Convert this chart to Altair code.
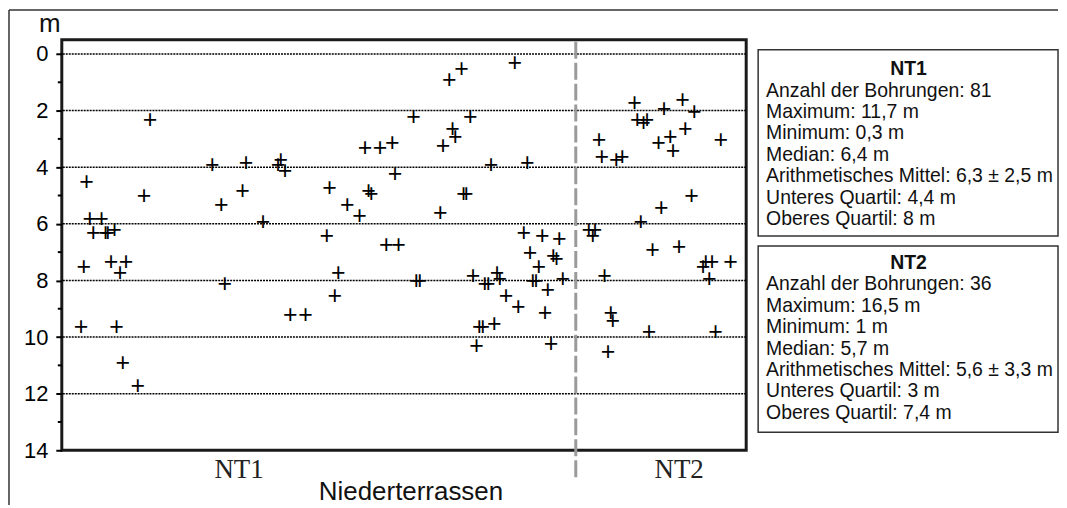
import altair as alt
import pandas as pd

# ---- data (position along the x axis is unitless 0-100) ----
nt1_pos = [3.6, 12.9, 22.0, 12.0, 23.3, 4.1, 5.8, 4.6, 6.4, 6.7, 7.7, 3.2, 7.2, 9.4, 8.5,
           23.8, 2.8, 8.0, 8.9, 11.1,
           26.9, 32.0, 31.6, 32.6, 26.4, 29.4, 44.3, 46.5, 48.3, 48.7, 39.1, 44.8, 45.2,
           41.7, 43.5, 38.7, 47.4, 49.2, 40.4, 39.9, 33.4, 35.6,
           56.6, 58.4, 66.2, 51.4, 59.7, 57.1, 57.5, 55.7, 62.7, 68.0, 58.7, 59.1, 55.3,
           51.8, 52.3, 67.5, 70.2, 72.7, 68.4, 71.8, 72.3, 69.7, 60.1, 63.6, 64.0, 61.8,
           62.3, 68.8, 69.3, 73.2, 71.0, 64.9, 66.7, 70.6, 61.0, 61.5, 63.2, 60.6, 71.5]
nt1_depth = [4.5, 2.3, 3.9, 5.0, 5.3, 5.8, 5.8, 6.3, 6.3, 6.3, 6.2, 7.5, 7.3, 7.3, 7.7,
             8.1, 9.6, 9.6, 10.9, 11.7,
             3.8, 3.7, 3.9, 4.1, 4.8, 5.9, 3.3, 3.3, 3.1, 4.2, 4.7, 4.8, 4.9,
             5.3, 5.7, 6.4, 6.7, 6.7, 7.7, 8.5, 9.2, 9.2,
             0.9, 0.5, 0.3, 2.2, 2.2, 2.6, 2.9, 3.2, 3.9, 3.8, 4.9, 4.9, 5.6,
             8.0, 8.0, 6.3, 6.4, 6.5, 7.0, 7.1, 7.2, 7.5, 7.8, 7.7, 7.9, 8.1,
             8.1, 8.0, 8.0, 7.9, 8.3, 8.5, 8.9, 9.1, 9.6, 9.6, 9.5, 10.3, 10.2]

nt2_pos = [83.7, 90.7, 88.0, 92.4, 84.1, 85.0, 85.5, 91.1, 78.5, 96.3, 88.9, 87.2, 89.3,
           78.9, 81.0, 81.9, 92.0, 87.6, 84.6, 77.0, 77.9, 77.6, 86.3, 90.2, 94.1, 95.0,
           93.7, 97.7, 94.6, 79.3, 80.2, 80.5, 85.8, 95.5, 79.8]
nt2_depth = [1.7, 1.6, 1.9, 2.0, 2.3, 2.4, 2.3, 2.6, 3.0, 3.0, 2.9, 3.1, 3.4,
             3.6, 3.7, 3.6, 5.0, 5.4, 5.9, 6.2, 6.2, 6.4, 6.9, 6.8, 7.3, 7.3,
             7.5, 7.3, 7.9, 7.8, 9.1, 9.4, 9.8, 9.8, 10.5]

group_names = ["NT1", "NT2"]
group_label_pos = [25.9, 90.2]
separator_pos = [75.1]
y_ticks = [0, 2, 4, 6, 8, 10, 12, 14]
minor_ticks = [1, 3, 5, 7, 9, 11, 13]
grid_values = [0, 2, 4, 6, 8, 10, 12]

box1_title = "NT1"
box1_lines = ["Anzahl der Bohrungen: 81", "Maximum: 11,7 m", "Minimum: 0,3 m",
              "Median: 6,4 m", "Arithmetisches Mittel: 6,3 ± 2,5 m",
              "Unteres Quartil: 4,4 m", "Oberes Quartil: 8 m"]
box2_title = "NT2"
box2_lines = ["Anzahl der Bohrungen: 36", "Maximum: 16,5 m", "Minimum:  1 m",
              "Median: 5,7 m", "Arithmetisches Mittel: 5,6 ± 3,3 m",
              "Unteres Quartil: 3 m", "Oberes Quartil:  7,4 m"]

x_title = "Niederterrassen"
y_unit = "m"

# ---- build tables ----
pts = pd.DataFrame({"pos": nt1_pos + nt2_pos, "depth": nt1_depth + nt2_depth})
labels_df = pd.DataFrame({"name": group_names, "pos": group_label_pos})
sep_df = pd.DataFrame({"pos": separator_pos})
grid_df = pd.DataFrame({"depth": grid_values})
minor_df = pd.DataFrame({"depth": minor_ticks})
one = pd.DataFrame({"k": [0]})

W, H = 687, 412
SANS = "Liberation Sans"
SERIF = "Liberation Serif"
BOX_FS = 19.5

xscale = alt.Scale(domain=[0, 100], nice=False, zero=False)
yscale = alt.Scale(domain=[-0.5, 14], reverse=True, nice=False, zero=False)

yaxis = alt.Axis(
    values=y_ticks,
    grid=False, domain=False, ticks=True, tickColor="black", tickWidth=2, tickSize=6,
    labelFont=SANS, labelFontSize=22, labelColor="black", labelPadding=8, title=None,
)

grid = alt.Chart(grid_df).mark_rule(color="black", strokeWidth=1.5, strokeDash=[2, 1]).encode(
    y=alt.Y("depth:Q", scale=yscale, axis=yaxis),
)

minor = alt.Chart(minor_df).mark_rule(color="black", strokeWidth=2).encode(
    y=alt.Y("depth:Q", scale=yscale, axis=yaxis),
    x=alt.value(-4), x2=alt.value(0),
)

points = alt.Chart(pts).mark_text(
    text="+", font=SANS, fontSize=25, color="black", baseline="middle", align="center", dy=1
).encode(
    x=alt.X("pos:Q", scale=xscale, axis=None),
    y=alt.Y("depth:Q", scale=yscale, axis=yaxis),
)

sep = alt.Chart(sep_df).mark_rule(color="#9a9a9a", strokeWidth=3, strokeDash=[17, 4]).encode(
    x=alt.X("pos:Q", scale=xscale, axis=None),
    y=alt.value(2), y2=alt.value(H + 27),
)

group_text = alt.Chart(labels_df).mark_text(
    font=SERIF, fontSize=27, color="#222", baseline="alphabetic", align="center"
).encode(
    x=alt.X("pos:Q", scale=xscale, axis=None), y=alt.value(H + 28), text="name:N"
)

def label(txt, x, y, size=BOX_FS, weight="normal", align="left", font=SANS):
    return alt.Chart(one).mark_text(
        text=txt, font=font, fontSize=size, fontWeight=weight, color="#111",
        baseline="alphabetic", align=align
    ).encode(x=alt.value(x), y=alt.value(y))

title_text = label(x_title, W / 2 + 7, H + 50, size=26, align="center")
unit_text = label(y_unit, -12, -8, size=26, align="center")

# outer frame lines (top and left)
frame_top = alt.Chart(one).mark_rule(color="#333", strokeWidth=1.5).encode(
    x=alt.value(-53), x2=alt.value(1000), y=alt.value(-30))
frame_left = alt.Chart(one).mark_rule(color="#333", strokeWidth=1.5).encode(
    x=alt.value(-53), y=alt.value(-30), y2=alt.value(H + 55))

def info_box(title, lines, top, bottom, title_base, first_base):
    rect = alt.Chart(one).mark_rect(fill="white", stroke="#333", strokeWidth=1.5).encode(
        x=alt.value(699), x2=alt.value(1000), y=alt.value(top), y2=alt.value(bottom))
    layers = [rect, label(title, 850, title_base, weight="bold", align="center")]
    for i, ln in enumerate(lines):
        layers.append(label(ln, 707, first_base + i * 21.5))
    return layers

box1 = info_box(box1_title, box1_lines, 10, 197, 35, 57)
box2 = info_box(box2_title, box2_lines, 207, 394, 230.5, 251.5)

chart = alt.layer(
    grid, minor, frame_top, frame_left, sep, points, group_text, title_text, unit_text,
    *box1, *box2
).properties(
    width=W, height=H, padding=0, background="white",
).configure_view(stroke="#1a1a1a", strokeWidth=3)

chart.save("out.html", embed_options={"renderer": "svg", "actions": False})
